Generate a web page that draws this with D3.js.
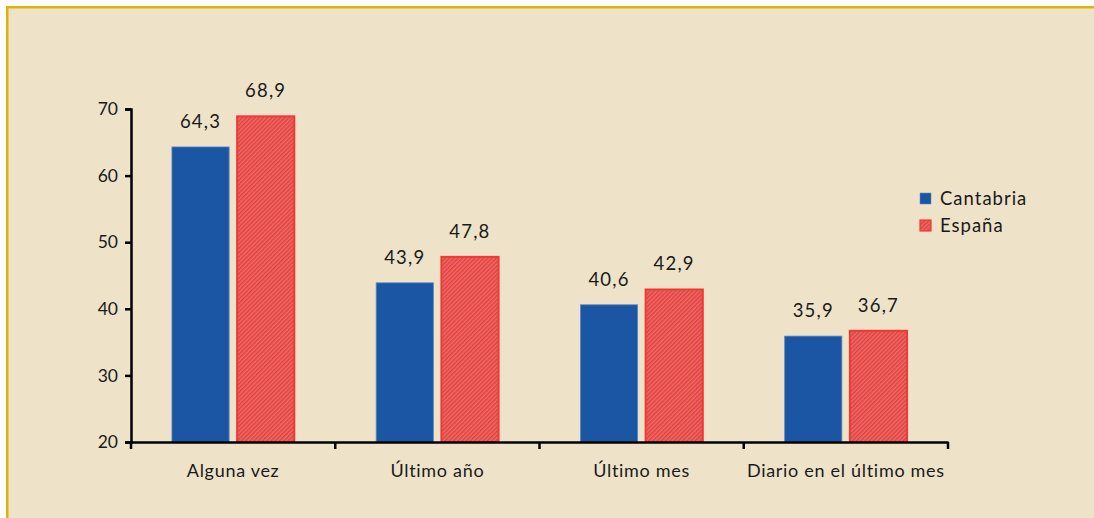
<!DOCTYPE html>
<html>
<head>
<meta charset="utf-8">
<script src="https://cdn.jsdelivr.net/npm/d3@7"></script>
<style>
  body { margin: 0; background: #fff; }
  svg { display: block; font-family: Lato, "Open Sans", sans-serif; }
</style>
</head>
<body>
<div id="chart"></div>
<script>
var categories = ["Alguna vez", "Último año", "Último mes", "Diario en el último mes"];
var series = ["Cantabria", "España"];
var cantabria = [64.3, 43.9, 40.6, 35.9];
var espana = [68.9, 47.8, 42.9, 36.7];
var yTicks = [20, 30, 40, 50, 60, 70];

var W = 1094, H = 518;
var margin = {top: 109, right: 146, bottom: 76, left: 131},
    width = W - margin.left - margin.right,
    height = H - margin.top - margin.bottom;

var svg = d3.select("#chart").append("svg")
    .attr("width", W)
    .attr("height", H);

// pattern for España bars
var defs = svg.append("defs");
var pat = defs.append("pattern")
    .attr("id", "hatch")
    .attr("patternUnits", "userSpaceOnUse")
    .attr("width", 3).attr("height", 3)
    .attr("patternTransform", "rotate(45)");
pat.append("rect").attr("width", 3).attr("height", 3).attr("fill", "#ec6a66");
pat.append("rect").attr("width", 1.5).attr("height", 3).attr("fill", "#e2423f");

// background panel with gold border top / left
svg.append("rect")
    .attr("x", 6).attr("y", 6)
    .attr("width", W - 6).attr("height", H - 6)
    .attr("fill", "#eee3c9");
svg.append("rect").attr("x", 6).attr("y", 6).attr("width", W - 6).attr("height", 2.5).attr("fill", "#e1b20c");
svg.append("rect").attr("x", 6).attr("y", 6).attr("width", 2.5).attr("height", H - 6).attr("fill", "#e1b20c");

var g = svg.append("g")
    .attr("transform", "translate(" + margin.left + "," + margin.top + ")");

var x = d3.scaleBand().domain(categories).range([0, width]);
var y = d3.scaleLinear().domain([20, 70]).range([height, 0]);

var barW = x.bandwidth() * 0.28, gap = 8;
var colors = {"Cantabria": "#1b56a5", "España": "url(#hatch)"};
var strokes = {"Cantabria": "#5d86bd", "España": "#ee3a35"};

var data = [];
categories.forEach(function(c, i) {
  data.push({cat: c, s: "Cantabria", v: cantabria[i], off: -gap / 2 - barW});
  data.push({cat: c, s: "España", v: espana[i], off: gap / 2});
});

g.selectAll("rect.bar")
  .data(data)
  .enter().append("rect")
    .attr("class", "bar")
    .attr("x", function(d) { return x(d.cat) + x.bandwidth() / 2 + d.off; })
    .attr("y", function(d) { return y(d.v); })
    .attr("width", barW)
    .attr("height", function(d) { return height - y(d.v); })
    .attr("fill", function(d) { return colors[d.s]; })
    .attr("stroke", function(d) { return strokes[d.s]; })
    .attr("stroke-width", function(d) { return d.s === "España" ? 2 : 0.8; });

g.selectAll("text.val")
  .data(data)
  .enter().append("text")
    .attr("class", "val")
    .attr("x", function(d) { return x(d.cat) + x.bandwidth() / 2 + d.off + barW / 2; })
    .attr("y", function(d) { return y(d.v) - 19; })
    .attr("text-anchor", "middle")
    .style("font-size", "18.5px")
    .style("letter-spacing", "1.2px")
    .style("fill", "#1a1a1a")
    .text(function(d) { return String(d.v).replace(".", ","); });

// axes
var xAxis = g.append("g")
    .attr("transform", "translate(0," + height + ")")
    .call(d3.axisBottom(x).tickSize(0).tickPadding(22));
xAxis.attr("font-family", null).attr("font-size", null);
xAxis.select(".domain").attr("stroke", "#000").attr("stroke-width", 2.5);
xAxis.selectAll("text").style("font-size", "18px").style("letter-spacing", "0.7px").style("fill", "#1a1a1a");

// category divider ticks
var bounds = categories.map(function(c) { return x(c); }).concat([width]);
xAxis.selectAll("line.div")
  .data(bounds)
  .enter().append("line")
    .attr("class", "div")
    .attr("x1", function(d) { return d; })
    .attr("x2", function(d) { return d; })
    .attr("y1", 0).attr("y2", 7)
    .attr("stroke", "#000").attr("stroke-width", 2.5);

var yAxis = g.append("g")
    .call(d3.axisLeft(y).tickValues(yTicks).tickSize(6).tickPadding(7));
yAxis.attr("font-family", null).attr("font-size", null);
yAxis.select(".domain").attr("stroke", "#000").attr("stroke-width", 2.5);
yAxis.selectAll(".tick line").attr("stroke", "#000").attr("stroke-width", 2.5);
yAxis.selectAll("text").style("font-size", "17.5px").style("fill", "#1a1a1a");

// legend
var legend = svg.append("g").attr("transform", "translate(920,193)");
series.forEach(function(s, i) {
  var row = legend.append("g").attr("transform", "translate(0," + (i * 27) + ")");
  row.append("rect")
      .attr("width", 11).attr("height", 11)
      .attr("fill", colors[s])
      .attr("stroke", strokes[s])
      .attr("stroke-width", s === "España" ? 1.2 : 0.5);
  row.append("text")
      .attr("x", 20).attr("y", 12)
      .style("font-size", "18.5px")
      .style("letter-spacing", "1px")
      .style("fill", "#1a1a1a")
      .text(s);
});
</script>
</body>
</html>
